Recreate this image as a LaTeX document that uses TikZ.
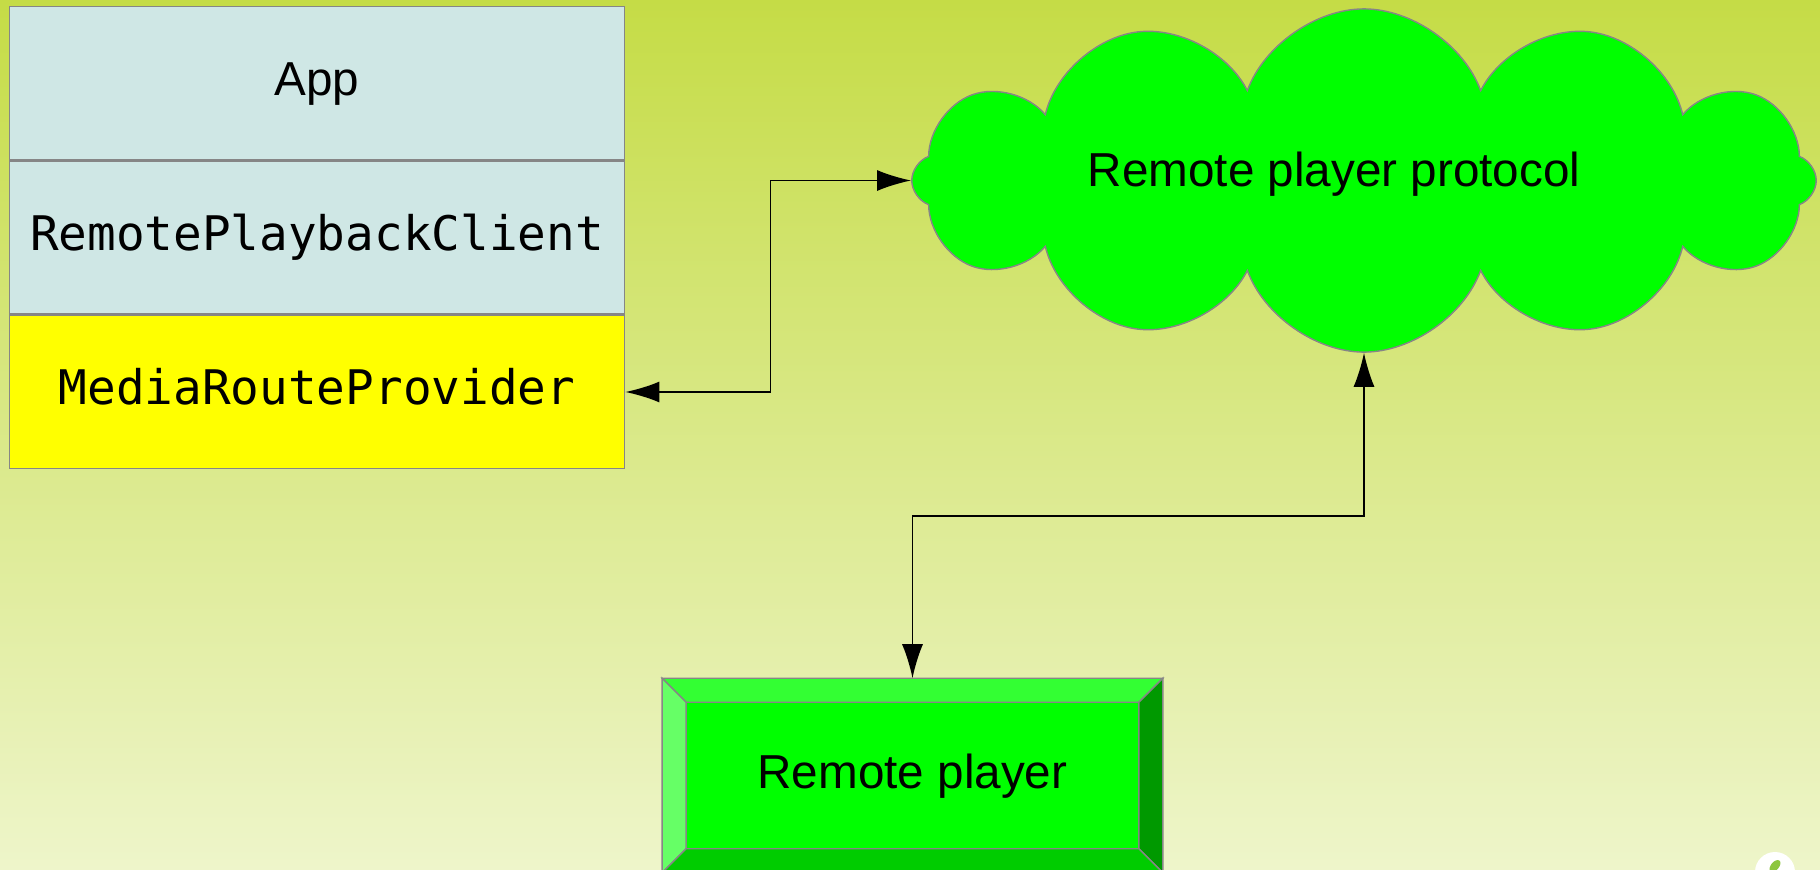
\documentclass[tikz,border=0pt]{standalone}
\usepackage{fontspec}
\setmainfont{Liberation Sans}
\setmonofont{DejaVu Sans Mono}
\usepackage{xcolor}
\usepackage{tikz}
\usetikzlibrary{
  arrows.meta,
  positioning,
  shapes.symbols,
  calc
}
\definecolor{BackTop}{HTML}{C5DC46}
\definecolor{BackBottom}{HTML}{EEF5CA}
\definecolor{LayerBlue}{HTML}{CFE7E5}
\definecolor{LayerYellow}{HTML}{FFFF00}
\definecolor{CloudGreen}{HTML}{00FF00}
\definecolor{BevelLight}{HTML}{66FF66}
\definecolor{BevelTop}{HTML}{33FF33}
\definecolor{BevelBottom}{HTML}{00CC00}
\definecolor{BevelDark}{HTML}{009900}
\definecolor{EdgeGray}{HTML}{868686}
\definecolor{LogoGreen}{HTML}{8DC63F}
\newcommand{\labelsize}{\fontsize{13.55pt}{16pt}\selectfont}
\tikzset{
  layer/.style={
    draw=EdgeGray,
    line width=0.4pt,
    fill=LayerBlue,
    inner sep=0pt,
    text height=0.72em,
    text depth=0pt,
    minimum width=6.15cm,
    minimum height=1.53cm
  },
  codelayer/.style={
    layer,
    font=\labelsize\ttfamily
  },
  protocol/.style={
    cloud,
    cloud puffs=12,
    cloud puff arc=140,
    cloud ignores aspect,
    draw=EdgeGray,
    line width=0.4pt,
    fill=CloudGreen,
    minimum width=9.04cm,
    minimum height=3.43cm
  },
  playerbox/.style={
    draw=EdgeGray,
    line width=0.4pt,
    fill=CloudGreen,
    inner sep=0pt,
    text height=0.72em,
    text depth=0pt,
    minimum width=4.99cm,
    minimum height=1.93cm
  },
  bevelface/.style={
    draw=EdgeGray,
    line width=0.4pt
  },
  link/.style={
    {Latex[length=3.4mm,width=2.1mm]}-{Latex[length=3.4mm,width=2.1mm]},
    line width=0.45pt
  }
}

\begin{document}
\begin{tikzpicture}[x=0.01cm,y=-0.01cm,font=\labelsize]

  \shade[top color=BackTop, bottom color=BackBottom]
  (0,0) rectangle (1820,869);
  \useasboundingbox (0,0) rectangle (1820,869);

  % layer stack on the device
  \node[layer] at (317,83) (app) {App};
  \node[codelayer, below=0pt of app] (client) {RemotePlaybackClient};
  \node[codelayer, fill=LayerYellow, below=0pt of client] (provider) {MediaRouteProvider};

  \node[
    protocol,
    label={[xshift=-0.3cm,yshift=0.065cm,text height=0.72em,text depth=0pt]center:Remote player protocol}
  ] at (1364,180.5) (cloud) {};

  % bevelled box
  \node[playerbox] at (912.5,775.5) (player) {Remote player};
  \filldraw[bevelface, fill=BevelTop]
  (player.north west) -- (player.north east) --
  ($(player.north east)+(-24,24)$) -- ($(player.north west)+(24,24)$) -- cycle;
  \filldraw[bevelface, fill=BevelLight]
  (player.north west) -- (player.south west) --
  ($(player.south west)+(24,-24)$) -- ($(player.north west)+(24,24)$) -- cycle;
  \filldraw[bevelface, fill=BevelDark]
  (player.north east) -- (player.south east) --
  ($(player.south east)+(-24,-24)$) -- ($(player.north east)+(-24,24)$) -- cycle;
  \filldraw[bevelface, fill=BevelBottom]
  (player.south west) -- (player.south east) --
  ($(player.south east)+(-24,-24)$) -- ($(player.south west)+(24,-24)$) -- cycle;

  \draw[link]
  (provider.east) -- ++(145,0) |-
  (cloud.west);

  \draw[link]
  (cloud.south) -- ++(0,163) -|
  (player.north);

  \fill[white] (1775,872) circle (20);
  \fill[LogoGreen, rotate around={-40:(1775,866)}] (1775,866) ellipse (4 and 7);

\end{tikzpicture}
\end{document}
